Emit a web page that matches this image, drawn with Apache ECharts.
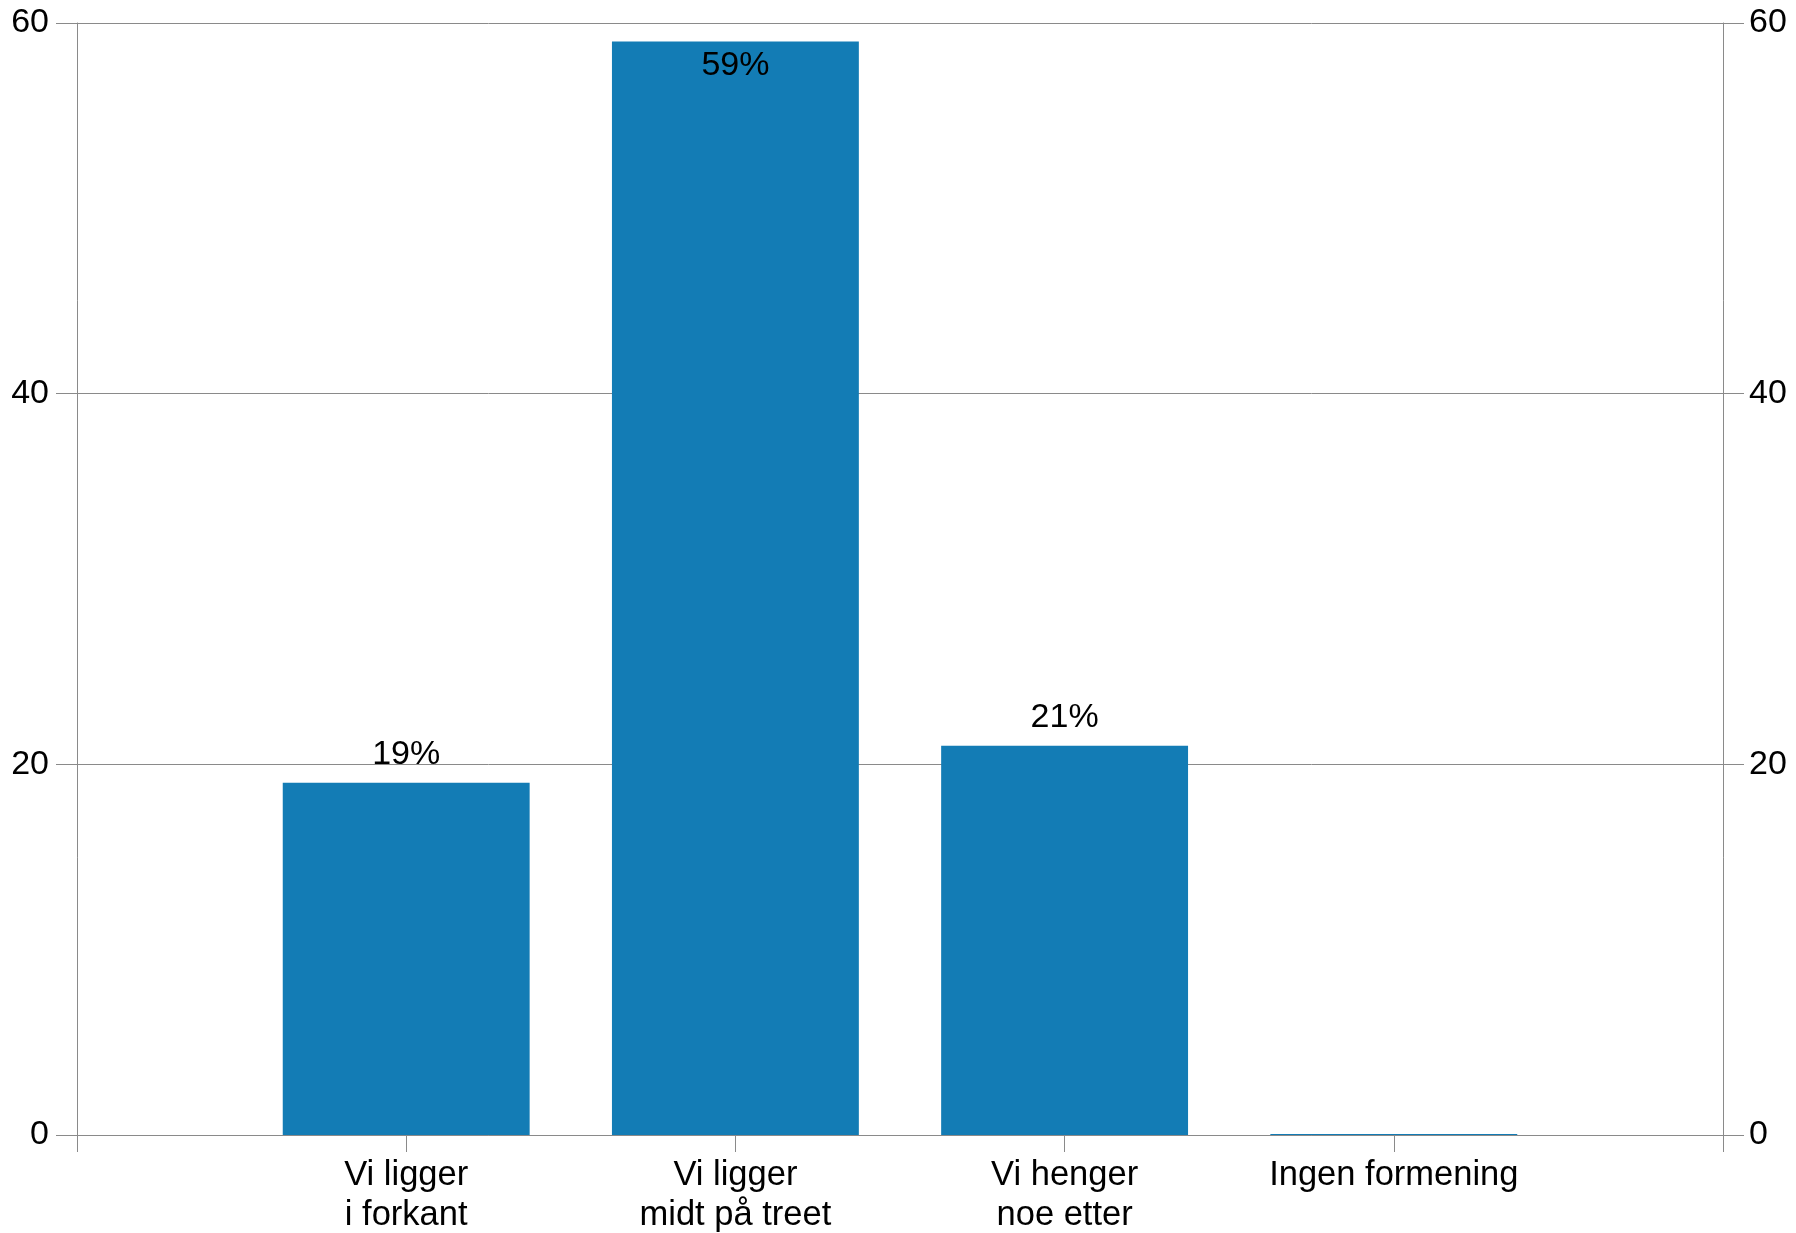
<!DOCTYPE html>
<html>
<head>
<meta charset="utf-8">
<script src="https://cdn.jsdelivr.net/npm/echarts@6/dist/echarts.min.js"></script>
<style>
html,body{margin:0;padding:0;background:#fff;}
#c{width:1796px;height:1233px;}
</style>
</head>
<body>
<div id="c"></div>
<script>
const categories = ['Vi ligger\ni forkant', 'Vi ligger\nmidt på treet', 'Vi henger\nnoe etter', 'Ingen formening'];
const values = [19, 59, 21, 0];
const yTicks = [0, 20, 40, 60];

const FONT = "'Liberation Sans', Arial, sans-serif";
const AXIS = '#8a8a8a';

const axisCats = [''].concat(categories, ['']);
const seriesData = [null].concat(values.map((v, i) => ({
  value: v,
  label: v >= 50 ? { position: 'insideTop', distance: 7 } : { position: 'top', distance: 11 }
})), [null]);

const yBase = {
  type: 'value', min: yTicks[0], max: yTicks[yTicks.length - 1], interval: yTicks[1] - yTicks[0],
  axisLine: { show: true, lineStyle: { color: AXIS, width: 1 } },
  axisTick: { show: true, length: 21, lineStyle: { color: AXIS, width: 1 } },
  axisLabel: { color: '#000', fontSize: 34, fontFamily: FONT, margin: 28 }
};

const chart = echarts.init(document.getElementById('c'), null, { renderer: 'canvas' });
chart.setOption({
  animation: false,
  backgroundColor: '#fff',
  grid: { left: 77, right: 73, top: 23, bottom: 98, containLabel: false, outerBoundsMode: 'none' },
  xAxis: {
    type: 'category', data: axisCats, boundaryGap: false,
    axisLine: { show: true, lineStyle: { color: AXIS, width: 1 } },
    axisTick: { show: true, length: 17, lineStyle: { color: AXIS, width: 1 } },
    axisLabel: { color: '#000', fontSize: 34.5, lineHeight: 40, fontFamily: FONT, margin: 20, interval: 0 },
    splitLine: { show: false }
  },
  yAxis: [
    Object.assign({}, yBase, { position: 'left', splitLine: { show: true, lineStyle: { color: AXIS, width: 1 } } }),
    Object.assign({}, yBase, { position: 'right', splitLine: { show: false }, axisLabel: Object.assign({}, yBase.axisLabel, { margin: 26 }) })
  ],
  series: [{
    type: 'bar', data: seriesData, barWidth: '75%', barMinHeight: 1,
    itemStyle: { color: '#137cb5' },
    label: {
      show: true, color: '#000', fontSize: 34, fontFamily: FONT,
      formatter: p => (p.value ? p.value + '%' : '')
    }
  }]
});
</script>
</body>
</html>
